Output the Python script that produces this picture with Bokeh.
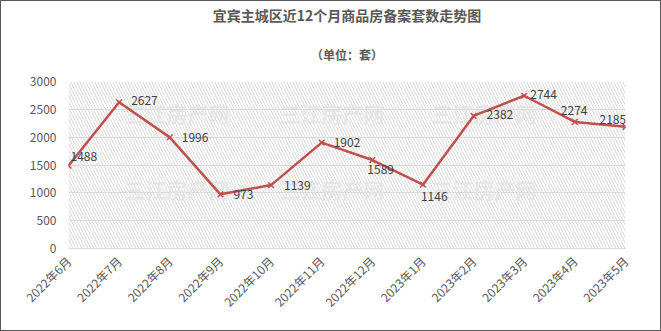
import math
from bokeh.plotting import figure
from bokeh.models import (ColumnDataSource, Range1d, FixedTicker, BoxAnnotation, Label, Title)
from bokeh.core.properties import value
from bokeh.embed import file_html
from bokeh.resources import INLINE

months = ["2022年6月", "2022年7月", "2022年8月", "2022年9月", "2022年10月", "2022年11月",
          "2022年12月", "2023年1月", "2023年2月", "2023年3月", "2023年4月", "2023年5月"]
counts = [1488, 2627, 1996, 973, 1139, 1902, 1589, 1146, 2382, 2744, 2274, 2185]
y_ticks = [0, 500, 1000, 1500, 2000, 2500, 3000]

# label offsets (screen px) for each data label
label_dx = [2, 12, 12, 13, 13, 12, -5, -2, 13, 6, -14, -26]
label_dy = [-9, -2, 0, 0, 0, 0, 9, 12, -1, -1, -11, -7]

FONT = "Noto Sans CJK SC"
xs = list(range(len(months)))

W, H = 661, 331
FL, FR, FT, FB = 67, 624, 80, 247  # frame edges in page pixels

p = figure(width=W, height=H, output_backend="svg", toolbar_location=None,
           x_range=Range1d(0, len(months) - 1), y_range=Range1d(0, 3000),
           min_border_left=FL, min_border_right=W - FR, min_border_top=FT,
           min_border_bottom=H - FB)
p.styles = {"border": "1px solid #595959", "box-sizing": "border-box"}
p.outline_line_color = None
p.background_fill_color = "white"
p.border_fill_color = "white"

# titles (first added sits closest to the frame)
p.add_layout(Title(text="（单位：套）", align="center", text_font=FONT,
                   text_font_size="12px", text_font_style="bold", text_color="#595959",
                   standoff=37), "above")
p.add_layout(Title(text="宜宾主城区近12个月商品房备案套数走势图", align="center", text_font=FONT,
                   text_font_size="14px", text_font_style="bold", text_color="#595959",
                   standoff=2), "above")

# hatched plot area
p.add_layout(BoxAnnotation(fill_alpha=0, line_color=None, hatch_pattern="\\",
                           hatch_color="#dadada", hatch_scale=6, hatch_weight=1,
                           level="underlay"))


def page_label(px, py, **kw):
    # screen-unit labels are measured from the frame's bottom-left corner
    return Label(x=px - FL, y=FB - py, x_units="screen", y_units="screen", **kw)


# watermarks
for wy in [111, 187, 269]:
    for wx in [123, 278, 430]:
        p.add_layout(page_label(wx, wy, text="三江房产网", text_font=FONT,
                                text_font_size="21px", text_font_style="bold",
                                text_color="#e4e4e4", text_alpha=0.85,
                                text_baseline="middle", level="underlay"))

src = ColumnDataSource(dict(x=xs, y=counts, t=[str(c) for c in counts],
                            dx=label_dx, dy=label_dy))
p.line("x", "y", source=src, line_color="#C0504D", line_width=2.5)
p.scatter("x", "y", source=src, marker="x", size=8, line_color="#C0504D", line_width=1.5)
p.text("x", "y", text="t", source=src, x_offset="dx", y_offset="dy",
       text_font=value(FONT), text_font_size="12px", text_color="#404040",
       text_baseline="middle", text_align="left")

# axes
p.xaxis.ticker = FixedTicker(ticks=xs)
p.xaxis.major_label_overrides = {i: m for i, m in enumerate(months)}
p.xaxis.major_label_orientation = math.pi / 4
p.xaxis.axis_line_color = "#d9d9d9"
p.xaxis.major_tick_line_color = None
p.xaxis.minor_tick_line_color = None
p.xaxis.major_label_text_font = FONT
p.xaxis.major_label_text_font_size = "12px"
p.xaxis.major_label_text_color = "#595959"
p.xaxis.major_label_standoff = 4

p.yaxis.ticker = FixedTicker(ticks=y_ticks)
p.yaxis.axis_line_color = None
p.yaxis.major_tick_line_color = None
p.yaxis.minor_tick_line_color = None
p.yaxis.major_label_text_font = FONT
p.yaxis.major_label_text_font_size = "12px"
p.yaxis.major_label_text_color = "#595959"
p.yaxis.major_label_standoff = 6

p.xgrid.grid_line_color = None
p.ygrid.ticker = FixedTicker(ticks=y_ticks)
p.ygrid.grid_line_color = "#d9d9d9"

open("out.html", "w").write(file_html(p, INLINE))
